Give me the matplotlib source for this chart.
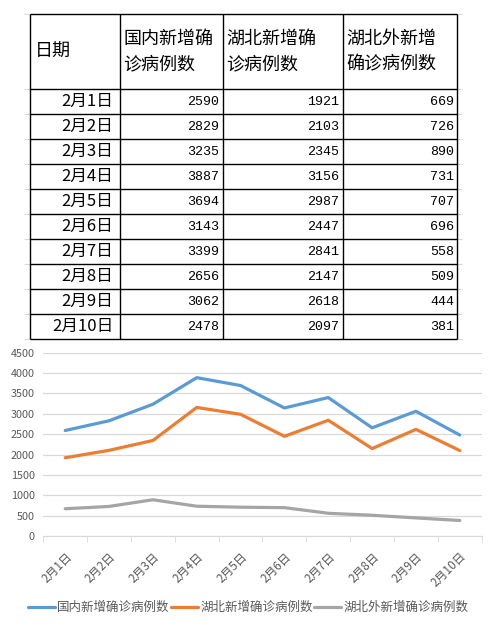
import matplotlib.pyplot as plt
import numpy as np

plt.rcParams['font.family'] = ['Noto Sans CJK SC', 'DejaVu Sans']

dates = ["2月1日", "2月2日", "2月3日", "2月4日", "2月5日",
         "2月6日", "2月7日", "2月8日", "2月9日", "2月10日"]
domestic = [2590, 2829, 3235, 3887, 3694, 3143, 3399, 2656, 3062, 2478]
hubei = [1921, 2103, 2345, 3156, 2987, 2447, 2841, 2147, 2618, 2097]
outside = [669, 726, 890, 731, 707, 696, 558, 509, 444, 381]

header = ["日期", "国内新增确\n诊病例数", "湖北新增确\n诊病例数", "湖北外新增\n确诊病例数"]
legend_names = ["国内新增确诊病例数", "湖北新增确诊病例数", "湖北外新增确诊病例数"]
colors = ["#5B9BD5", "#ED7D31", "#A5A5A5"]

W, H = 489, 623
fig = plt.figure(figsize=(W / 100, H / 100), dpi=100)

# table drawn in pixel coords
tab = fig.add_axes([0, 0, 1, 1])
tab.set_xlim(0, W)
tab.set_ylim(H, 0)
tab.axis('off')

col_x = [29.5, 119.5, 222.5, 342.5, 457]
top, head_bot, row_h = 13.5, 88.5, 25
n = len(dates)
row_y = [head_bot + i * row_h for i in range(n + 1)]

# faint spreadsheet gridline stubs
tab.hlines([top] + row_y, col_x[-1], col_x[-1] + 5, color='#D9D9D9', lw=0.8)
tab.hlines([top] + row_y, 24, col_x[0], color='#D9D9D9', lw=0.8)

tab.hlines([top] + row_y, col_x[0], col_x[-1], color='black', lw=1.0)
tab.vlines(col_x, top, row_y[-1], color='black', lw=1.0)

# header
tab.text(col_x[0] + 5, 52, header[0], fontsize=13, va='center', ha='left', weight='light')
for j in range(1, 4):
    l1, l2 = header[j].split("\n")
    tab.text(col_x[j] + 4, 39, l1, fontsize=13, va='center', ha='left', weight='light')
    tab.text(col_x[j] + 4, 64, l2, fontsize=13, va='center', ha='left', weight='light')

for i in range(n):
    yc = row_y[i] + row_h / 2
    tab.text(col_x[1] - 6, yc, dates[i], fontsize=12, va='center', ha='right', weight='light')
    for j, vals in enumerate([domestic, hubei, outside]):
        tab.text(col_x[j + 2] - 3, yc + 1, str(vals[i]), fontsize=9.6,
                 family='Liberation Mono', va='center', ha='right')

# line chart
ax = fig.add_axes([43.3 / W, 87 / H, 438.4 / W, 183.3 / H])
x = np.arange(n)
for vals, c, name in zip([domestic, hubei, outside], colors, legend_names):
    ax.plot(x, vals, color=c, lw=2.3, label=name, solid_capstyle='round')

ax.set_xlim(-0.5, n - 0.5)
ax.set_ylim(0, 4500)
ax.set_yticks(np.arange(0, 4501, 500))
ax.yaxis.grid(True, color='#D9D9D9', lw=0.9)
ax.set_axisbelow(True)
for s in ['top', 'right', 'left']:
    ax.spines[s].set_visible(False)
ax.spines['bottom'].set_color('#D9D9D9')
ax.tick_params(axis='y', length=0, pad=6, labelsize=7.8, labelcolor='#595959')
ax.set_xticks(x)
ax.set_xticklabels(dates, rotation=45, ha='right', rotation_mode='anchor')
ax.tick_params(axis='x', length=0, pad=10, labelsize=8.5, labelcolor='#595959')
ax.set_xticks(np.arange(-0.5, n, 1), minor=True)
ax.tick_params(axis='x', which='minor', length=4, color='#D9D9D9', direction='out')

fig.legend(loc='center', bbox_to_anchor=(0.507, 1 - 607.7 / H), ncol=3, frameon=False,
           fontsize=9, labelcolor='#595959', handlelength=2.2, handletextpad=0.15,
           columnspacing=0.1)

fig.savefig("out.png", dpi=100)
